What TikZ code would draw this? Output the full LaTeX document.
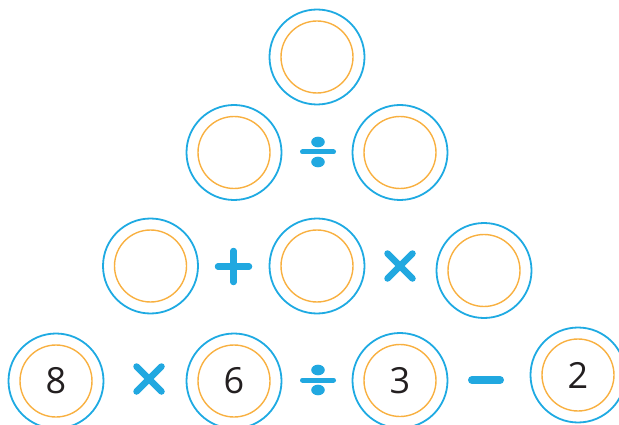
\documentclass[tikz,border=0pt]{standalone}
\usepackage{fontspec}
\setmainfont{Open Sans}
\definecolor{ringblue}{RGB}{30,170,226}
\definecolor{ringorange}{RGB}{248,176,64}
\definecolor{opblue}{RGB}{33,168,224}
\definecolor{digit}{RGB}{35,31,32}
\begin{document}
\begin{tikzpicture}[x=1pt,y=-1pt,
  outerring/.style={circle,draw=ringblue,line width=1.8pt,minimum size=95pt,inner sep=0pt},
  innerring/.style={circle,draw=ringorange,line width=1.4pt,minimum size=72pt,inner sep=0pt,
     font=\fontsize{36}{36}\selectfont,text=digit},
  opline/.style={draw=opblue,line width=6.5pt,line cap=round},
  divbar/.style={draw=opblue,line width=5pt,line cap=round},
  divdot/.style={fill=opblue}]
\useasboundingbox (0,0) rectangle (619,425);
\clip (0,0) rectangle (619,425);
\foreach \n/\x/\y/\t in {a/317/57/{},b1/234/152.5/{},b2/400/152.5/{},
   c1/150.5/266/{},c2/317/266/{},c3/484/270.5/{},
   d1/56/381/8,d2/234/381/6,d3/400/380.5/3,d4/578/375/2}{
  \node[outerring] (o\n) at (\x,\y) {};
  \node[innerring] (i\n) at (\x,\y) {\t};
}
% divide signs
\foreach \n/\x/\y in {divb/318/152,divd/318/380}{
  \coordinate (\n) at (\x,\y);
  \draw[divbar] ([xshift=-15.5pt]\n) -- ([xshift=15.5pt]\n);
  \fill[divdot] ([yshift=-10pt]\n) ellipse (6.8pt and 5.3pt);
  \fill[divdot] ([yshift=10pt]\n) ellipse (6.8pt and 5.3pt);
}
% plus
\coordinate (plusc) at (233.5,266.5);
\draw[opline] ([xshift=-15.5pt]plusc) -- ([xshift=15.5pt]plusc);
\draw[opline] ([yshift=-15.5pt]plusc) -- ([yshift=15.5pt]plusc);
% times
\foreach \n/\x/\y in {timesc/400/266,timesd/149/379}{
  \coordinate (\n) at (\x,\y);
  \draw[opline] ([shift={(-12.5pt,-12.5pt)}]\n) -- ([shift={(12.5pt,12.5pt)}]\n);
  \draw[opline] ([shift={(-12.5pt,12.5pt)}]\n) -- ([shift={(12.5pt,-12.5pt)}]\n);
}
% minus
\coordinate (minusd) at (486,380);
\draw[opline,line width=8pt] ([xshift=-14pt]minusd) -- ([xshift=14pt]minusd);
\end{tikzpicture}
\end{document}
